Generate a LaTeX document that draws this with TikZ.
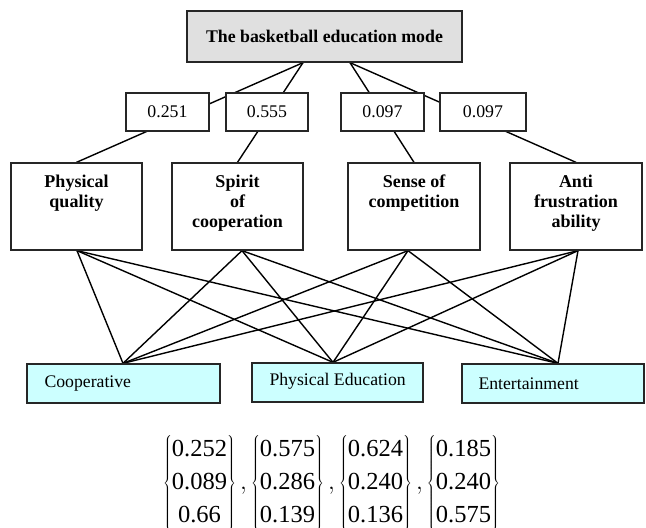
\documentclass[tikz,border=0pt]{standalone}
\usepackage{fontspec}
\setmainfont{Liberation Serif}
\usetikzlibrary{calc,backgrounds}
\definecolor{topfill}{HTML}{E0E0E0}
\definecolor{altfill}{HTML}{CCFFFF}
\begin{document}
\begin{tikzpicture}[x=1pt,y=-1pt,
  box/.style={draw=black!85, line width=1.3pt, inner sep=0pt, fill=white},
  wbox/.style={box, minimum height=38pt, font=\fontsize{17.8}{20}\selectfont},
  cbox/.style={box, minimum width=131pt, minimum height=87pt},
  ctext/.style={inner sep=0pt, anchor=north, align=center, font=\fontsize{18}{20}\selectfont\bfseries},
  abox/.style={box, fill=altfill, minimum height=39pt},
  atext/.style={inner sep=0pt, anchor=west, font=\fontsize{17.7}{20}\selectfont},
  conn/.style={line width=1.4pt, black}]
\useasboundingbox (0,0) rectangle (646,528);

% top
\node[box, fill=topfill, minimum width=275pt, minimum height=51pt, font=\fontsize{17.8}{20}\selectfont\bfseries] (top) at (324.5,36.5) {The basketball education mode};
\coordinate (tl) at ($(top.south)+(-21.5,0)$);
\coordinate (tr) at ($(top.south)+(25.5,0)$);

% weights
\node[wbox, minimum width=83pt] (w1) at (167.5,112) {0.251};
\node[wbox, minimum width=82pt] (w2) at (267,112) {0.555};
\node[wbox, minimum width=83pt] (w3) at (382.5,112) {0.097};
\node[wbox, minimum width=86pt] (w4) at (483,112) {0.097};

% criteria
\node[cbox] (pq) at (76.5,206.5) {};
\node[cbox] (sc) at (237.5,206.5) {};
\node[cbox, minimum width=132pt] (sn) at (414,206.5) {};
\node[cbox, minimum width=132pt] (af) at (576,206.5) {};
\node[ctext] (pqt) at ($(pq.north)+(0,12.5)$) {Physical\\quality};
\node[ctext] (sct) at ($(sc.north)+(0,12.5)$) {Spirit\\of\\cooperation};
\node[ctext] (snt) at ($(sn.north)+(0,12.5)$) {Sense of\\competition};
\node[ctext] (aft) at ($(af.north)+(0,12.5)$) {Anti\\frustration\\ability};

% alternatives
\node[abox, minimum width=193pt] (coop) at (123.5,383.5) {};
\node[abox, minimum width=171pt] (pe) at (337.5,382.5) {};
\node[abox, minimum width=182pt] (ent) at (553,383.5) {};
\node[atext] (coopl) at ($(coop.west)+(18,0)$) {Cooperative};
\node[atext] (pel) at ($(pe.west)+(18,-1)$) {Physical Education};
\node[atext] (entl) at ($(ent.west)+(17,0)$) {Entertainment};

\coordinate (pqb) at ($(pq.south)+(0.5,0)$);
\coordinate (scb) at ($(sc.south)+(4.5,0)$);
\coordinate (snb) at ($(sn.south)+(-6,0)$);
\coordinate (afb) at ($(af.south)+(2,0)$);
\coordinate (coopt) at ($(coop.north)+(-0.5,0)$);
\coordinate (pet) at ($(pe.north)+(-4.5,0)$);
\coordinate (entt) at ($(ent.north)+(5,0)$);

\begin{scope}[on background layer]
\draw[conn] (tl) -- (pq.north);
\draw[conn] (tl) -- (sc.north);
\draw[conn] (tr) -- (sn.north);
\draw[conn] (tr) -- (af.north);
\foreach \c in {pqb,scb,snb,afb}{
  \foreach \a in {coopt,pet,entt}{
    \draw[conn] (\c) -- (\a);
  }
}
\end{scope}

% vectors
\node[inner sep=0pt, font=\fontsize{24.5}{33}\selectfont] (vec) at (331.5,483) {$\left\{\begin{array}{@{}c@{}}\mbox{0.252}\\ \mbox{0.089}\\ \mbox{0.66}\end{array}\right\},\left\{\begin{array}{@{}c@{}}\mbox{0.575}\\ \mbox{0.286}\\ \mbox{0.139}\end{array}\right\},\left\{\begin{array}{@{}c@{}}\mbox{0.624}\\ \mbox{0.240}\\ \mbox{0.136}\end{array}\right\},\left\{\begin{array}{@{}c@{}}\mbox{0.185}\\ \mbox{0.240}\\ \mbox{0.575}\end{array}\right\}$};
\end{tikzpicture}
\end{document}
